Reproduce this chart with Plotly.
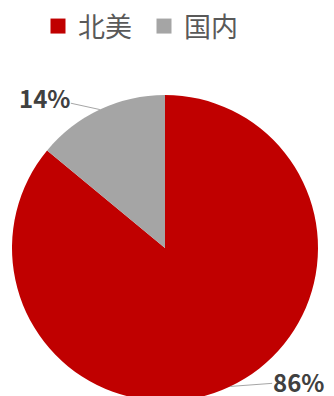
import math
import plotly.graph_objects as go

categories = ["北美", "国内"]
values = [86, 14]
colors = ["#C00000", "#A5A5A5"]

W, H = 334, 410
m = dict(l=0, r=4, t=95, b=9, autoexpand=False)
pw = W - m["l"] - m["r"]
ph = H - m["t"] - m["b"]
r = min(pw, ph) / 2

fig = go.Figure()
fig.add_trace(go.Pie(
    labels=categories, values=values, sort=False, direction="clockwise", rotation=0,
    marker=dict(colors=colors, line=dict(width=0)), textinfo="none",
    hoverinfo="label+percent", showlegend=False,
))
# legend entries
for name, c in zip(categories, colors):
    fig.add_trace(go.Scatter(x=[None], y=[None], mode="markers", name=name,
                             marker=dict(symbol="square", size=15, color=c)))

# percentage labels with leader lines, positioned from the data
total = sum(values)
offsets = {"北美": (68, -5), "国内": (-55, -12)}
cum = 0
annotations = []
for name, v in zip(categories, values):
    theta = 2 * math.pi * (cum + v / 2) / total
    cum += v
    x = 0.5 + r * math.sin(theta) / pw
    y = 0.5 + r * math.cos(theta) / ph
    ax, ay = offsets[name]
    annotations.append(dict(
        x=x, y=y, xref="paper", yref="paper", text=f"{round(100*v/total)}%",
        showarrow=True, arrowhead=0, arrowwidth=1, arrowcolor="#A6A6A6",
        ax=ax, ay=ay, standoff=0, borderpad=0,
        font=dict(family="Noto Sans CJK SC, Open Sans, sans-serif", size=24, color="#404040", weight="bold"),
    ))

fig.update_layout(
    width=W, height=H, margin=m,
    paper_bgcolor="white", plot_bgcolor="white",
    xaxis=dict(visible=False), yaxis=dict(visible=False),
    showlegend=True,
    legend=dict(orientation="h", x=38 / pw, xanchor="left", y=1 + (95 - 26.5) / ph, yanchor="middle",
                font=dict(family="Noto Sans CJK SC, sans-serif", size=27, color="#595959"),
                bgcolor="rgba(0,0,0,0)", itemwidth=30, entrywidth=61),
    annotations=annotations,
)
fig.write_html(
    "out.html",
    config={"displayModeBar": False},
    post_script="document.body.style.margin='0';document.body.style.overflow='hidden';"
                "document.documentElement.style.overflow='hidden';",
)
